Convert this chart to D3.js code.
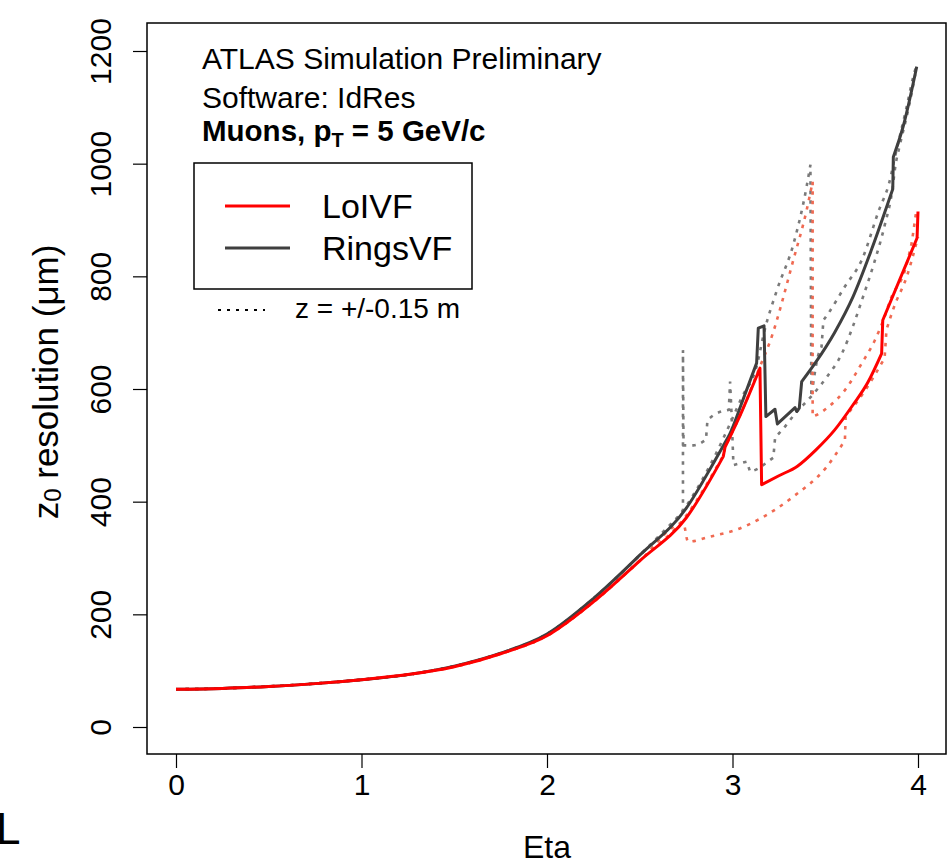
<!DOCTYPE html>
<html><head><meta charset="utf-8">
<script src="https://cdn.jsdelivr.net/npm/d3@7"></script>
<style>
body{margin:0;background:#fff;}
text{font-family:"Liberation Sans",Arial,Helvetica,sans-serif;fill:#000;}
</style></head>
<body><svg id="c" width="947" height="862"></svg>
<script>
// ---- data ----
const xTicks = [0, 1, 2, 3, 4];
const yTicks = [0, 200, 400, 600, 800, 1000, 1200];

const baseEta = [0, 0.25, 0.5, 0.75, 1, 1.25, 1.5, 1.75, 2, 2.25, 2.5];
const baseDark = [67, 68.5, 72, 77, 84, 93, 108, 131, 165, 228, 305];
const baseRed  = [67, 68.5, 72, 77, 84, 93, 107, 130, 162, 222, 295];

// RingsVF solid
const ringsEta = [2.75, 2.9, 2.96, 2.985, 3.05, 3.13, 3.139, 3.17, 3.18, 3.229, 3.242, 3.337, 3.346, 3.36, 3.373, 3.45, 3.55, 3.65, 3.75, 3.864, 3.867, 3.92, 3.993];
const ringsVal = [388, 470, 505, 520, 575, 646, 708, 712, 551, 564, 538, 567, 560, 566, 613, 648, 700, 764, 848, 955, 1012, 1066, 1172];

// LoIVF solid
const loiEta = [2.75, 2.95, 2.96, 3.05, 3.148, 3.157, 3.25, 3.35, 3.45, 3.55, 3.65, 3.73, 3.804, 3.81, 3.995, 4.0];
const loiVal = [371, 480, 497, 560, 637, 430, 446, 463, 492, 527, 572, 612, 663, 722, 868, 915];

// RingsVF dotted, z = +0.15 m side
const ringsAEta = [2.72, 2.733, 2.733, 2.736, 2.79, 2.857, 2.865, 2.9, 2.98, 2.987, 2.995, 3.005, 3.077, 3.095, 3.14, 3.19, 3.22, 3.23, 3.25, 3.34, 3.43, 3.51, 3.59, 3.65, 3.70, 3.76, 3.82, 3.86, 3.88, 3.90, 3.95, 3.993];
const ringsAVal = [378, 385, 669, 500, 500, 510, 545, 554, 563, 613, 555, 465, 471, 453, 459, 471, 478, 515, 521, 557, 589, 622, 663, 712, 760, 820, 890, 950, 1000, 1030, 1100, 1172];

// RingsVF dotted, z = -0.15 m side
const ringsBEta = [2.75, 2.9, 3.0, 3.05, 3.13, 3.17, 3.24, 3.33, 3.40, 3.42, 3.425, 3.46, 3.48, 3.49, 3.516, 3.606, 3.697, 3.79, 3.844, 3.876, 3.939, 3.975, 3.995];
const ringsBVal = [392, 478, 548, 585, 640, 700, 776, 859, 960, 998, 586, 657, 675, 722, 734, 782, 829, 918, 965, 1012, 1101, 1155, 1178];

// LoIVF dotted, z = +0.15 m side
const loiAEta = [2.735, 2.76, 2.88, 3.02, 3.15, 3.328, 3.508, 3.606, 3.61, 3.72, 3.82, 3.83, 3.87, 3.94, 4.0];
const loiAVal = [362, 329, 338, 350, 370, 409, 462, 509, 551, 600, 655, 705, 745, 800, 870];

// LoIVF dotted, z = -0.15 m side
const loiBEta = [2.75, 2.95, 2.96, 3.05, 3.148, 3.202, 3.328, 3.4, 3.432, 3.432, 3.46, 3.52, 3.606, 3.696, 3.768, 3.813, 3.858, 3.93, 3.966, 3.984, 3.99];
const loiBVal = [375, 482, 497, 560, 640, 684, 829, 918, 968, 551, 555, 569, 598, 645, 687, 722, 764, 811, 859, 900, 915];

const legendNames = ["LoIVF", "RingsVF"];

// ---- drawing ----
const svg = d3.select("#c");
const x = d3.scaleLinear().domain([0, 4]).range([176, 918]);
const y = d3.scaleLinear().domain([0, 1200]).range([727, 51]);

const RED = "#ff0000", DARK = "#3f3f3f", GRAYD = "#7a7a7a", REDD = "#f06a52";

function series(eta, val, bEta, bVal) {
  const pts = bEta.map((e, i) => [e, bVal[i]]);
  return pts.concat(eta.map((e, i) => [e, val[i]]));
}
// smooth runs joined by straight jumps where eta barely changes
const smooth = d3.line().x(d => x(d[0])).y(d => y(d[1])).curve(d3.curveMonotoneX);
function pathFor(pts) {
  const runs = [[pts[0]]];
  for (let i = 1; i < pts.length; i++) {
    if (pts[i][0] - pts[i - 1][0] < 0.02) runs.push([pts[i]]);
    else runs[runs.length - 1].push(pts[i]);
  }
  let d = "";
  runs.forEach((r, k) => {
    let s;
    if (r.length === 1) {
      s = "M" + x(r[0][0]) + "," + y(r[0][1]);
    } else {
      s = smooth(r).replace(/Z/g, "");
    }
    d += (k === 0 ? s : "L" + s.slice(1));
  });
  return d;
}

const g = svg.append("g");
const dotted = [
  [series(ringsAEta, ringsAVal, baseEta, baseDark), GRAYD],
  [series(ringsBEta, ringsBVal, baseEta, baseDark), GRAYD],
  [series(loiAEta, loiAVal, baseEta, baseRed), REDD],
  [series(loiBEta, loiBVal, baseEta, baseRed), REDD]
];
dotted.forEach(([d, c]) => {
  g.append("path").attr("d", pathFor(d)).attr("fill", "none").attr("stroke", c)
    .attr("stroke-width", 2.6).attr("stroke-dasharray", "3.5,6");
});
g.append("path").attr("d", pathFor(series(ringsEta, ringsVal, baseEta, baseDark)))
  .attr("fill", "none").attr("stroke", DARK).attr("stroke-width", 3).attr("stroke-linejoin", "round");
g.append("path").attr("d", pathFor(series(loiEta, loiVal, baseEta, baseRed)))
  .attr("fill", "none").attr("stroke", RED).attr("stroke-width", 3).attr("stroke-linejoin", "round");

// frame
svg.append("rect").attr("x", 147).attr("y", 23).attr("width", 799).attr("height", 731)
  .attr("fill", "none").attr("stroke", "#000").attr("stroke-width", 1.5);

// x axis
const xAxis = svg.append("g").attr("transform", "translate(0,754)")
  .call(d3.axisBottom(x).tickValues(xTicks).tickFormat(d3.format("d")).tickSize(14).tickPadding(6));
xAxis.select(".domain").remove();
xAxis.selectAll("line").attr("stroke", "#000").attr("stroke-width", 1.2);
xAxis.selectAll("text").attr("font-size", 30).attr("font-family", "Liberation Sans, Arial, sans-serif");

// y axis
const yAxis = svg.append("g").attr("transform", "translate(147,0)")
  .call(d3.axisLeft(y).tickValues(yTicks).tickFormat(d3.format("d")).tickSize(14));
yAxis.select(".domain").remove();
yAxis.selectAll("line").attr("stroke", "#000").attr("stroke-width", 1.2);
yAxis.selectAll(".tick text").attr("font-size", 30).attr("font-family", "Liberation Sans, Arial, sans-serif")
  .attr("x", 0).attr("dy", null).attr("text-anchor", "middle").attr("dominant-baseline", "central")
  .attr("transform", "translate(-47,0) rotate(-90)");

// axis titles
svg.append("text").attr("x", 547).attr("y", 858).attr("text-anchor", "middle")
  .attr("font-size", 32).text("Eta");
const yt = svg.append("text").attr("transform", "translate(45,382) rotate(-90)")
  .attr("text-anchor", "middle").attr("dominant-baseline", "central").attr("font-size", 35);
yt.append("tspan").text("z");
yt.append("tspan").attr("font-size", 24).attr("dy", 7).text("0");
yt.append("tspan").attr("dy", -7).text(" resolution (\u03bcm)");

// annotations
svg.append("text").attr("x", 202).attr("y", 69).attr("font-size", 30).text("ATLAS Simulation Preliminary");
svg.append("text").attr("x", 202).attr("y", 108).attr("font-size", 30).text("Software: IdRes");
const mu = svg.append("text").attr("x", 202).attr("y", 141).attr("font-size", 29.5).attr("font-weight", "bold");
mu.append("tspan").text("Muons, p");
mu.append("tspan").attr("font-size", 20).attr("dy", 6).text("T");
mu.append("tspan").attr("dy", -6).text(" = 5 GeV/c");

// legend
svg.append("rect").attr("x", 194).attr("y", 163).attr("width", 278).attr("height", 126)
  .attr("fill", "#fff").attr("stroke", "#000").attr("stroke-width", 1.5);
const legColors = [RED, DARK];
legendNames.forEach((n, i) => {
  const yy = 206 + i * 42;
  svg.append("line").attr("x1", 225).attr("x2", 290).attr("y1", yy).attr("y2", yy)
    .attr("stroke", legColors[i]).attr("stroke-width", 3);
  svg.append("text").attr("x", 322).attr("y", yy + 12).attr("font-size", 34).text(n);
});
svg.append("line").attr("x1", 218).attr("x2", 265).attr("y1", 310).attr("y2", 310)
  .attr("stroke", "#000").attr("stroke-width", 2).attr("stroke-dasharray", "3,6");
svg.append("text").attr("x", 295).attr("y", 318).attr("font-size", 28).text("z = +/-0.15 m");

// clipped fragment at left edge
svg.append("text").attr("x", -4).attr("y", 844).attr("font-size", 44).text("L");
</script></body></html>
